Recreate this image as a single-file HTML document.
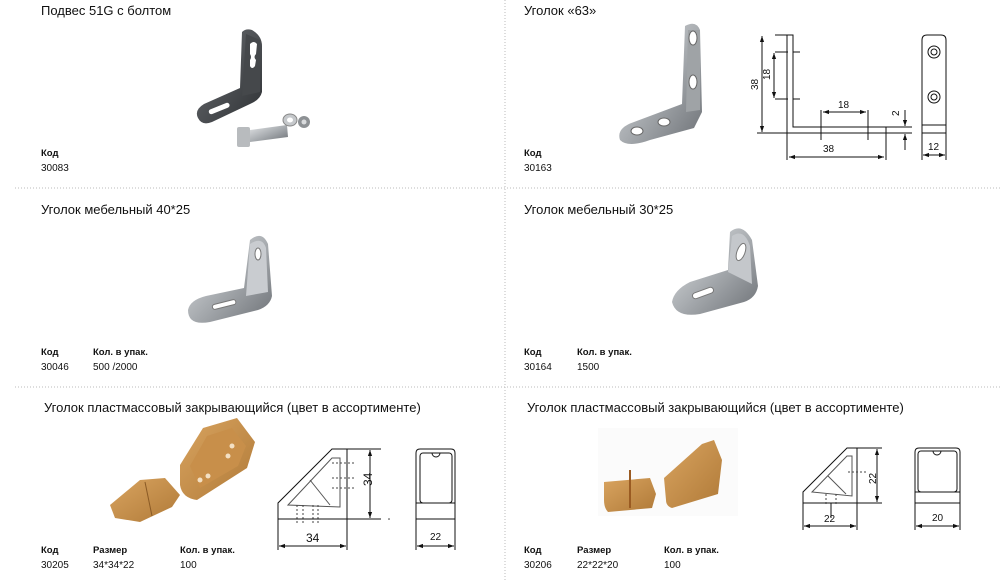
<!DOCTYPE html>
<html><head><meta charset="utf-8"><style>
html,body{margin:0;padding:0;background:#fff;}
svg{display:block;}
text{font-family:"Liberation Sans",sans-serif;fill:#111;}
.t{font-size:13px;}
.b{font-size:9.5px;font-weight:bold;}
.n{font-size:10px;}
.d{font-size:10px;}
</style></head><body>
<svg width="1007" height="582" viewBox="0 0 1007 582" xmlns="http://www.w3.org/2000/svg">
<defs>
<linearGradient id="met" x1="0" y1="0" x2="1" y2="1"><stop offset="0" stop-color="#e4e6e8"/><stop offset="0.5" stop-color="#a9adb1"/><stop offset="1" stop-color="#6d7176"/></linearGradient>
<linearGradient id="dark" x1="0" y1="0" x2="1" y2="1"><stop offset="0" stop-color="#6c6f73"/><stop offset="1" stop-color="#2f3235"/></linearGradient>
<linearGradient id="or" x1="0" y1="0" x2="1" y2="1"><stop offset="0" stop-color="#d9a460"/><stop offset="1" stop-color="#b07a38"/></linearGradient>
<marker id="a" viewBox="0 0 10 10" refX="10" refY="5" markerWidth="6" markerHeight="6" orient="auto-start-reverse"><path d="M0,1.5 L10,5 L0,8.5z" fill="#111"/></marker>
</defs>
<g stroke="#bbb" stroke-width="1" stroke-dasharray="1,2">
<line x1="15" y1="188" x2="1000" y2="188"/>
<line x1="15" y1="387" x2="1000" y2="387"/>
<line x1="505" y1="0" x2="505" y2="582"/>
</g>
<text class="t" x="41" y="15">Подвес 51G с болтом</text>
<text class="t" x="524" y="15">Уголок «63»</text>
<text class="b" x="41" y="156">Код</text><text class="n" x="41" y="171">30083</text>
<text class="b" x="524" y="156">Код</text><text class="n" x="524" y="171">30163</text>
<text class="t" x="41" y="214">Уголок мебельный 40*25</text>
<text class="t" x="524" y="214">Уголок мебельный 30*25</text>
<text class="b" x="41" y="355">Код</text><text class="b" x="93" y="355">Кол. в упак.</text>
<text class="n" x="41" y="370">30046</text><text class="n" x="93" y="370">500 /2000</text>
<text class="b" x="524" y="355">Код</text><text class="b" x="577" y="355">Кол. в упак.</text>
<text class="n" x="524" y="370">30164</text><text class="n" x="577" y="370">1500</text>
<text class="t" x="44" y="412">Уголок пластмассовый закрывающийся (цвет в ассортименте)</text>
<text class="t" x="527" y="412">Уголок пластмассовый закрывающийся (цвет в ассортименте)</text>
<text class="b" x="41" y="553">Код</text><text class="b" x="93" y="553">Размер</text><text class="b" x="180" y="553">Кол. в упак.</text>
<text class="n" x="41" y="568">30205</text><text class="n" x="93" y="568">34*34*22</text><text class="n" x="180" y="568">100</text>
<text class="b" x="524" y="553">Код</text><text class="b" x="577" y="553">Размер</text><text class="b" x="664" y="553">Кол. в упак.</text>
<text class="n" x="524" y="568">30206</text><text class="n" x="577" y="568">22*22*20</text><text class="n" x="664" y="568">100</text>

<!-- product 1: hanger with bolt -->
<path d="M242,32 Q246,28 252,30 Q262,36 262,46 L262,92 Q260,100 250,104 L212,122 Q202,126 198,118 Q194,110 204,104 L240,88z" fill="url(#dark)"/>
<path d="M246,34 L260,40 L260,92 L242,96z" fill="#45484b"/>
<path d="M250,44 q4,-4 7,0 l-1,10 q-3,3 0,6 l-1,6 q-3,4 -5,0 l0,-6 q2,-3 0,-6z" fill="#fff"/>
<rect x="208" y="106" width="22" height="5" rx="2.5" fill="#fff" transform="rotate(-22 219 108)"/>
<rect x="237" y="127" width="13" height="20" rx="2" fill="#b8bbbe"/>
<path d="M250,130 L287,125 L288,137 L250,142z" fill="url(#met)"/>
<ellipse cx="290" cy="120" rx="7" ry="6" fill="#c5c8cb" stroke="#888"/>
<ellipse cx="290" cy="120" rx="3" ry="2.5" fill="#fff"/>
<ellipse cx="304" cy="122" rx="6" ry="6" fill="#8d9194"/>
<ellipse cx="304" cy="122" rx="2.5" ry="2.5" fill="#d9dbdd"/>

<!-- product 2: angle 63 photo -->
<path d="M685,26 Q696,20 700,30 L702,112 L694,128 L650,140 Q628,148 620,140 Q616,128 634,122 L682,104z" fill="url(#met)"/>
<path d="M688,30 L700,30 L700,110 L686,112z" fill="#9fa3a6"/>
<ellipse cx="693" cy="38" rx="4" ry="7" fill="#fff" stroke="#666"/>
<ellipse cx="693" cy="82" rx="4" ry="7" fill="#fff" stroke="#666"/>
<ellipse cx="637" cy="131" rx="6" ry="4" fill="#fff" stroke="#666"/>
<ellipse cx="664" cy="122" rx="6" ry="4" fill="#fff" stroke="#666"/>

<g stroke="#111" stroke-width="1" fill="none">
<path d="M787,35 L793,35 L793,127 L886,127 L886,133 L787,133z"/>
<line x1="793" y1="52" x2="800" y2="52"/><line x1="793" y1="99" x2="800" y2="99"/>
<line x1="775" y1="35" x2="787" y2="35"/><line x1="757" y1="133" x2="787" y2="133"/>
<line x1="762" y1="36" x2="762" y2="132" marker-start="url(#a)" marker-end="url(#a)"/>
<line x1="775" y1="52" x2="788" y2="52"/><line x1="775" y1="99" x2="788" y2="99"/>
<line x1="774" y1="53" x2="774" y2="98" marker-start="url(#a)" marker-end="url(#a)"/>
<line x1="821" y1="110" x2="821" y2="140"/><line x1="868" y1="110" x2="868" y2="140"/>
<line x1="823" y1="112" x2="866" y2="112" marker-start="url(#a)" marker-end="url(#a)"/>
<line x1="787" y1="133" x2="787" y2="160"/><line x1="886" y1="133" x2="886" y2="160"/>
<line x1="789" y1="157" x2="884" y2="157" marker-start="url(#a)" marker-end="url(#a)"/>
<line x1="886" y1="127" x2="912" y2="127"/><line x1="886" y1="133" x2="912" y2="133"/>
<line x1="905" y1="110" x2="905" y2="126" marker-end="url(#a)"/>
<line x1="905" y1="150" x2="905" y2="134" marker-end="url(#a)"/>
<path d="M922,125 L922,40 Q922,35 927,35 L941,35 Q946,35 946,40 L946,133 L922,133z"/>
<line x1="922" y1="125" x2="946" y2="125"/>
<circle cx="934" cy="52" r="6"/><circle cx="934" cy="52" r="3"/>
<circle cx="934" cy="97" r="6"/><circle cx="934" cy="97" r="3"/>
<line x1="922" y1="133" x2="922" y2="160"/><line x1="946" y1="133" x2="946" y2="160"/>
<line x1="923" y1="155" x2="945" y2="155" marker-start="url(#a)" marker-end="url(#a)"/>
</g>
<text class="d" x="758" y="90" transform="rotate(-90 758 90)">38</text>
<text class="d" x="770" y="80" transform="rotate(-90 770 80)">18</text>
<text class="d" x="838" y="108">18</text>
<text class="d" x="823" y="152">38</text>
<text class="d" x="899" y="116" transform="rotate(-90 899 116)">2</text>
<text class="d" x="928" y="150">12</text>

<path d="M250,240 Q262,230 268,244 L272,296 Q270,306 258,310 L210,322 Q188,326 188,310 Q190,300 206,296 L244,288z" fill="url(#met)"/>
<path d="M250,244 Q262,236 266,248 L268,292 L246,296z" fill="#c9ccd0"/>
<ellipse cx="258" cy="254" rx="3" ry="6" fill="#fff" stroke="#777"/>
<rect x="212" y="302" width="24" height="5" rx="2.5" fill="#fff" stroke="#777" transform="rotate(-14 224 304)"/>

<path d="M730,232 Q742,222 752,240 L758,286 Q756,298 744,302 L700,314 Q676,318 672,302 Q674,290 690,282 L728,270z" fill="url(#met)"/>
<path d="M732,236 Q744,228 750,246 L752,284 L728,272z" fill="#c4c7cb"/>
<ellipse cx="741" cy="252" rx="4" ry="9" fill="#fff" stroke="#777" transform="rotate(20 741 252)"/>
<rect x="692" y="290" width="22" height="6" rx="3" fill="#fff" stroke="#777" transform="rotate(-20 703 293)"/>

<!-- plastic 30205 photo -->
<path d="M180,465 L203,428 L237,418 L255,442 L247,468 L197,500 Q182,498 180,485z" fill="url(#or)"/>
<path d="M190,466 L207,436 L232,428 L246,446 L238,466 L200,488z" fill="#c88f4a"/>
<circle cx="232" cy="446" r="2.5" fill="#f3e0c4"/><circle cx="228" cy="456" r="2.5" fill="#f3e0c4"/><circle cx="200" cy="480" r="2.5" fill="#f3e0c4"/><circle cx="208" cy="476" r="2.5" fill="#f3e0c4"/>
<path d="M110,505 L140,480 L165,478 L180,495 L172,507 L140,522 L115,518z" fill="url(#or)"/>
<line x1="145" y1="482" x2="152" y2="516" stroke="#8a5a25"/>

<rect x="598" y="428" width="140" height="88" fill="#fbfbfb"/>
<path d="M664,478 L702,444 L714,440 L722,460 L718,494 L672,508 Q666,506 666,500z" fill="url(#or)"/>
<path d="M604,482 L650,478 L656,494 L652,508 L608,512 Q604,508 604,500z" fill="url(#or)"/>
<line x1="630" y1="470" x2="630" y2="508" stroke="#9a5b22" stroke-width="2"/>

<g stroke="#111" stroke-width="1" fill="none">
<path d="M278,519 L278,503 L332,449 L347,449 L347,519z"/>
<path d="M288,505 L332,458 L340,458 L340,507 Z" stroke="#555"/>
<line x1="310" y1="480" x2="330" y2="505" stroke="#555"/>
<g stroke-dasharray="2,2" stroke="#444"><line x1="332" y1="463" x2="354" y2="463"/><line x1="332" y1="478" x2="354" y2="478"/><line x1="332" y1="488" x2="354" y2="488"/><line x1="297" y1="505" x2="297" y2="524"/><line x1="303" y1="505" x2="303" y2="524"/><line x1="313" y1="505" x2="313" y2="524"/><line x1="318" y1="505" x2="318" y2="524"/></g>
<line x1="347" y1="449" x2="381" y2="449"/><line x1="278" y1="519" x2="381" y2="519"/>
<line x1="370" y1="450" x2="370" y2="518" marker-start="url(#a)" marker-end="url(#a)"/>
<line x1="278" y1="519" x2="278" y2="550"/><line x1="347" y1="519" x2="347" y2="550"/>
<line x1="279" y1="546" x2="346" y2="546" marker-start="url(#a)" marker-end="url(#a)"/>
<path d="M416,519 L416,453 Q416,449 420,449 L451,449 Q455,449 455,453 L455,519z"/>
<rect x="420" y="453" width="32" height="50" rx="3"/>
<path d="M432,453 a4,4 0 0 0 8,0"/>
<line x1="416" y1="503" x2="455" y2="503"/>
<line x1="416" y1="519" x2="416" y2="550"/><line x1="455" y1="519" x2="455" y2="550"/>
<line x1="417" y1="546" x2="454" y2="546" marker-start="url(#a)" marker-end="url(#a)"/>
</g>
<text class="t" x="372" y="486" transform="rotate(-90 372 486)" style="font-size:12px">34</text>
<text class="t" x="306" y="542" style="font-size:12px">34</text>
<text class="d" x="430" y="540">22</text>
<circle cx="389" cy="519" r="0.8" fill="#333"/>

<g stroke="#111" stroke-width="1" fill="none">
<path d="M803,503 L803,492 L847,448 L857,448 L857,503z"/>
<path d="M812,492 L847,456 L852,456 L852,496z" stroke="#555"/>
<line x1="828" y1="476" x2="846" y2="494" stroke="#555"/>
<g stroke-dasharray="2,2" stroke="#444"><line x1="848" y1="472" x2="866" y2="472"/><line x1="826" y1="494" x2="826" y2="506"/><line x1="836" y1="494" x2="836" y2="506"/></g>
<line x1="857" y1="448" x2="882" y2="448"/><line x1="857" y1="503" x2="882" y2="503"/>
<line x1="877" y1="449" x2="877" y2="502" marker-start="url(#a)" marker-end="url(#a)"/>
<line x1="803" y1="503" x2="803" y2="530"/><line x1="857" y1="503" x2="857" y2="530"/>
<line x1="831" y1="503" x2="831" y2="518"/>
<line x1="804" y1="526" x2="856" y2="526" marker-start="url(#a)" marker-end="url(#a)"/>
<path d="M915,503 L915,452 Q915,448 919,448 L956,448 Q960,448 960,452 L960,503z"/>
<rect x="918" y="451" width="39" height="41" rx="3"/>
<path d="M933,451 a4,4 0 0 0 8,0"/>
<line x1="915" y1="492" x2="960" y2="492"/>
<line x1="915" y1="503" x2="915" y2="530"/><line x1="960" y1="503" x2="960" y2="530"/>
<line x1="916" y1="526" x2="959" y2="526" marker-start="url(#a)" marker-end="url(#a)"/>
</g>
<text class="d" x="876" y="484" transform="rotate(-90 876 484)">22</text>
<text class="d" x="824" y="522">22</text>
<text class="d" x="932" y="521">20</text>
</svg>
</body></html>
